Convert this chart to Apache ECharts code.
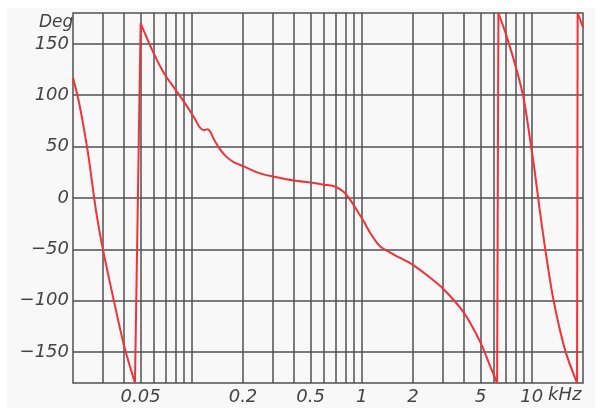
<!DOCTYPE html>
<html>
<head>
<meta charset="utf-8">
<script src="https://cdn.jsdelivr.net/npm/echarts@6/dist/echarts.min.js"></script>
<style>
html,body{margin:0;padding:0;background:#ffffff;}
#c{width:600px;height:413px;}
</style>
</head>
<body>
<div id="c"></div>
<script>
// frequency in kHz
const freqKHz = [0.020,0.0215,0.0231,0.0247,0.0273,0.030,0.0347,0.040,0.0463,0.050,0.0596,0.0689,0.0789,0.0888,0.100,0.106,0.111,0.118,0.124,0.129,0.134,0.147,0.160,0.176,0.200,0.252,0.300,0.400,0.500,0.600,0.700,0.780,0.856,0.936,1.02,1.12,1.28,1.54,2.0,2.41,3.0,4.0,5.0,5.7,6.25,6.36,7.12,8.16,9.0,9.8,10.3,11.1,12.0,13.4,15.7,18.45,18.6,20.0];
// phase in degrees
const phaseDeg = [117,96,69,40,-12,-50,-99,-144,-180,170,141,121,107,95,82,75,69,66,67,64,58,47,40,35,31,24,21,17,15,13,11,6,-2,-12,-22,-34,-47,-55,-65,-75,-88,-112,-141,-164,-180,180,157,124,95,55,31,-10,-50,-99,-148,-180,180,166];

const xGridValues = [0.03,0.04,0.05,0.06,0.07,0.08,0.09,0.1,0.2,0.3,0.4,0.5,0.6,0.7,0.8,0.9,1,2,3,4,5,6,7,8,9,10];
const xLabelValues = [0.05,0.2,0.5,1,2,5,10];
const yGridValues = [-150,-100,-50,0,50,100,150];
const yTitle = 'Deg';
const xUnit = 'kHz';

const textColor = '#444';
const gridColor = '#505050';
const curveColor = '#f0323a';
const fontFamily = '"DejaVu Sans", sans-serif';

// split the curve at phase wraps: smooth segments + straight wrap lines
const pts = freqKHz.map((f, i) => [f, phaseDeg[i]]);
const segments = [];
const wraps = [];
let cur = [pts[0]];
for (let i = 1; i < pts.length; i++) {
  if (Math.abs(pts[i][1] - pts[i - 1][1]) > 300) {
    segments.push(cur);
    wraps.push([pts[i - 1], pts[i]]);
    cur = [pts[i]];
  } else {
    cur.push(pts[i]);
  }
}
segments.push(cur);

const chart = echarts.init(document.getElementById('c'), null, {renderer: 'canvas'});
const markData = xGridValues.map(v => ({xAxis: v})).concat(yGridValues.map(v => ({yAxis: v})));

const curveSeries = segments.map(seg => ({
  type: 'line', z: 5, showSymbol: false, symbol: 'none', smooth: 0.3,
  data: seg, lineStyle: {color: curveColor, width: 2}, clip: true, silent: true
})).concat(wraps.map(w => ({
  type: 'line', z: 5, showSymbol: false, symbol: 'none', smooth: false,
  data: w, lineStyle: {color: curveColor, width: 2}, clip: true, silent: true
})));

chart.setOption({
  backgroundColor: '#ffffff',
  animation: false,
  graphic: [
    {type: 'rect', left: 7, top: 8, shape: {width: 588, height: 400}, style: {fill: '#f8f8f8'}, z: -10, silent: true},
    {type: 'text', left: 39, top: 14, style: {text: yTitle, fill: textColor, font: 'italic 17px ' + fontFamily}, z: 10},
    {type: 'text', left: 548, top: 386, style: {text: xUnit, fill: textColor, font: 'italic 18px ' + fontFamily}, z: 10}
  ],
  grid: {left: 73, right: 17, top: 13, bottom: 30, show: true, borderColor: gridColor, borderWidth: 1.5, backgroundColor: 'transparent'},
  xAxis: {
    type: 'log', min: 0.02, max: 20, logBase: 10,
    axisLine: {show: false}, axisTick: {show: false}, splitLine: {show: false},
    axisLabel: {
      customValues: xLabelValues,
      color: textColor, fontStyle: 'italic', fontSize: 18, fontFamily: fontFamily, margin: 5,
      formatter: v => String(+(+v).toPrecision(3))
    }
  },
  yAxis: {
    type: 'value', min: -180, max: 180,
    axisLine: {show: false}, axisTick: {show: false}, splitLine: {show: false},
    axisLabel: {
      customValues: yGridValues,
      color: textColor, fontStyle: 'italic', fontSize: 18, fontFamily: fontFamily, margin: 4,
      formatter: v => (v < 0 ? '\u2212' + Math.abs(v) : String(v))
    }
  },
  series: [
    {
      type: 'line', data: [], z: 1, silent: true,
      markLine: {
        silent: true, symbol: ['none','none'], animation: false,
        label: {show: false},
        lineStyle: {color: gridColor, width: 1.5, type: 'solid'},
        emphasis: {disabled: true},
        data: markData
      }
    }
  ].concat(curveSeries)
});
</script>
</body>
</html>
